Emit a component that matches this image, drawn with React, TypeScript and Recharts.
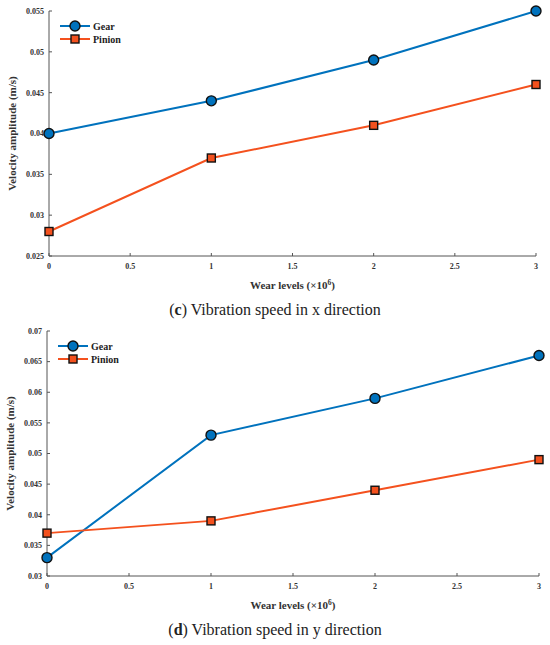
import { LineChart, Line, XAxis, YAxis, Label } from "recharts";

const wearLevels = [0, 1, 2, 3];
const xTicks = [0, 0.5, 1, 1.5, 2, 2.5, 3];

// (c) x direction
const gearX = [0.04, 0.044, 0.049, 0.055];
const pinionX = [0.028, 0.037, 0.041, 0.046];
const yTicksX = [0.025, 0.03, 0.035, 0.04, 0.045, 0.05, 0.055];

// (d) y direction
const gearY = [0.033, 0.053, 0.059, 0.066];
const pinionY = [0.037, 0.039, 0.044, 0.049];
const yTicksY = [0.03, 0.035, 0.04, 0.045, 0.05, 0.055, 0.06, 0.065, 0.07];

const BLUE = "#0072BD";
const ORANGE = "#F4511E";
const AXIS = "#555555";
const FONT = "'Liberation Serif', 'Times New Roman', serif";

const tickStyle = { fill: "#333333", fontSize: 8, fontWeight: 700, fontFamily: FONT };

const CircleDot = (props: any) => {
  const { cx, cy } = props;
  if (cx == null || cy == null) return null;
  return <circle cx={cx} cy={cy} r={5} fill={BLUE} stroke="#111" strokeWidth={1.4} />;
};

const SquareDot = (props: any) => {
  const { cx, cy } = props;
  if (cx == null || cy == null) return null;
  return <rect x={cx - 4} y={cy - 4} width={8} height={8} fill={ORANGE} stroke="#111" strokeWidth={1.4} />;
};

const LegendBox = () => (
  <svg width={80} height={30} style={{ display: "block" }}>
    <line x1={2} y1={6} x2={32} y2={6} stroke={BLUE} strokeWidth={2} />
    <circle cx={17} cy={6} r={5} fill={BLUE} stroke="#111" strokeWidth={1.4} />
    <text x={35} y={9.5} fontFamily={FONT} fontWeight={700} fontSize={10} fill="#222">Gear</text>
    <line x1={2} y1={19} x2={32} y2={19} stroke={ORANGE} strokeWidth={2} />
    <rect x={13} y={15} width={8} height={8} fill={ORANGE} stroke="#111" strokeWidth={1.4} />
    <text x={35} y={22.5} fontFamily={FONT} fontWeight={700} fontSize={10} fill="#222">Pinion</text>
  </svg>
);

const XLabel = (props: any) => {
  const vb = props.viewBox || {};
  const cx = vb.x + vb.width / 2;
  return (
    <text x={cx} y={vb.y + 33} textAnchor="middle" fontFamily={FONT} fontWeight={700} fontSize={11} fill="#333">
      Wear levels (×10
      <tspan dy={-4} fontSize={7.5}>6</tspan>
      <tspan dy={4}>)</tspan>
    </text>
  );
};

type PanelProps = {
  gear: number[];
  pinion: number[];
  yTicks: number[];
  left: number;
  right: number;
  letter: string;
  caption: string;
};

const Panel = ({ gear, pinion, yTicks, left, right, letter, caption }: PanelProps) => {
  const data = wearLevels.map((w, i) => ({ w, gear: gear[i], pinion: pinion[i] }));
  const yAxisWidth = 38;
  return (
    <div style={{ position: "relative", width: 550, height: 320 }}>
      <LineChart
        width={550}
        height={300}
        data={data}
        margin={{ top: 11, right: 550 - right, bottom: 24, left: left - yAxisWidth }}
      >
        <XAxis
          dataKey="w"
          type="number"
          domain={[0, 3]}
          ticks={xTicks}
          stroke={AXIS}
          tickSize={-3}
          tickMargin={10}
          tick={tickStyle}
          height={20}
        >
          <Label content={<XLabel />} />
        </XAxis>
        <YAxis
          type="number"
          domain={[yTicks[0], yTicks[yTicks.length - 1]]}
          ticks={yTicks}
          stroke={AXIS}
          tickSize={-3}
          tickMargin={8}
          tick={tickStyle}
          width={yAxisWidth}
          interval={0}
        >
          <Label
            value="Velocity amplitude (m/s)"
            angle={-90}
            position="insideLeft"
            offset={1}
            style={{ textAnchor: "middle", fontFamily: FONT, fontWeight: 700, fontSize: 11, fill: "#333" }}
          />
        </YAxis>
        <Line
          dataKey="gear"
          type="linear"
          stroke={BLUE}
          strokeWidth={2}
          dot={<CircleDot />}
          activeDot={false}
          isAnimationActive={false}
        />
        <Line
          dataKey="pinion"
          type="linear"
          stroke={ORANGE}
          strokeWidth={2}
          dot={<SquareDot />}
          activeDot={false}
          isAnimationActive={false}
        />
      </LineChart>
      <div style={{ position: "absolute", left: left + 9, top: 20 }}>
        <LegendBox />
      </div>
      <div
        style={{
          position: "absolute",
          top: 301,
          left: 0,
          width: 550,
          textAlign: "center",
          fontFamily: FONT,
          fontSize: 16,
          color: "#222",
        }}
      >
        (<b>{letter}</b>) {caption}
      </div>
    </div>
  );
};

export default function App() {
  return (
    <div style={{ position: "absolute", top: 0, left: 0, width: 550, height: 645, background: "#fff" }}>
      <Panel gear={gearX} pinion={pinionX} yTicks={yTicksX} left={49} right={536} letter="c" caption="Vibration speed in x direction" />
      <Panel gear={gearY} pinion={pinionY} yTicks={yTicksY} left={47} right={539} letter="d" caption="Vibration speed in y direction" />
    </div>
  );
}
